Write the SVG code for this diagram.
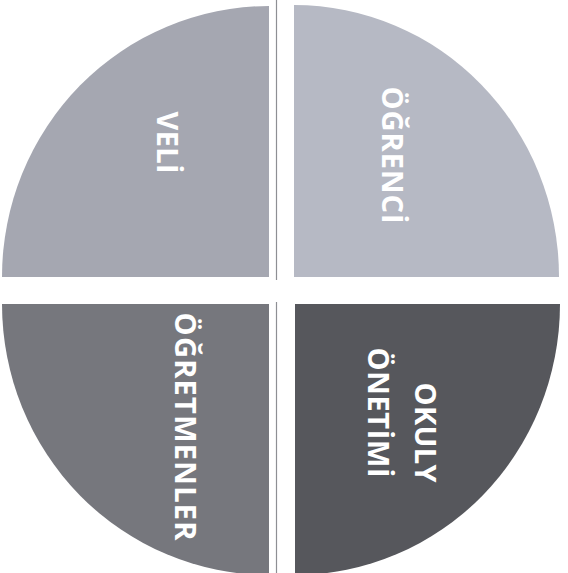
<svg xmlns="http://www.w3.org/2000/svg" width="568" height="573" viewBox="0 0 568 573">
<style>
.lbl{font-family:"Open Sans","DejaVu Sans",sans-serif;font-weight:bold;font-size:29px;fill:#ffffff;text-anchor:middle}
.sep{stroke:#8e8f94;stroke-width:1.2}
</style>
<rect width="568" height="573" fill="#ffffff"/>
<g id="veli">
<path d="M269,277 L2,277 A267,271 0 0 1 269,6 Z" fill="#a5a7b1"/>
<text class="lbl" transform="translate(157,142.5) rotate(90)" textLength="62" lengthAdjust="spacing">VELİ</text>
</g>
<g id="ogrenci">
<path d="M294,277 L294,5 A265,272 0 0 1 559,277 Z" fill="#b6b9c4"/>
<text class="lbl" transform="translate(382,155) rotate(90)" textLength="137" lengthAdjust="spacing">ÖĞRENCİ</text>
</g>
<g id="ogretmenler">
<path d="M269,304 L269,575 A267,271 0 0 1 2,304 Z" fill="#76777d"/>
<text class="lbl" transform="translate(175,426.5) rotate(90)" textLength="228" lengthAdjust="spacing">ÖĞRETMENLER</text>
</g>
<g id="okul-yonetimi">
<path d="M295,304 L560,304 A265,271 0 0 1 295,575 Z" fill="#56575c"/>
<text class="lbl" transform="translate(415,432.5) rotate(90)" textLength="100" lengthAdjust="spacing">OKULY</text>
<text class="lbl" transform="translate(368,412.5) rotate(90)" textLength="130" lengthAdjust="spacing">ÖNETİMİ</text>
</g>
<g id="connectors">
<line class="sep" x1="276.5" y1="0" x2="276.5" y2="280"/>
<line class="sep" x1="276.5" y1="302" x2="276.5" y2="573"/>
</g>
</svg>
